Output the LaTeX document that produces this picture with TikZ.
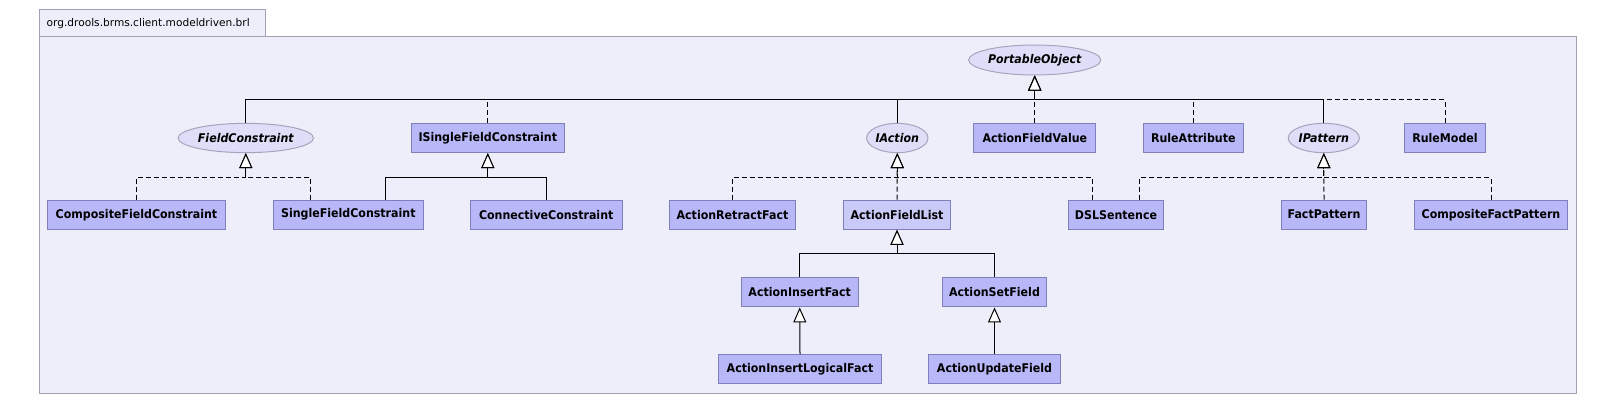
\documentclass[tikz,border=0pt]{standalone}
\usepackage{fontspec}
\usetikzlibrary{shapes.geometric,arrows.meta,calc}
\newfontfamily\boxfont{DejaVu Sans}[FakeStretch=0.92]
\newfontfamily\tabfont{DejaVu Sans}
\definecolor{pkgfill}{RGB}{238,238,250}
\definecolor{pkgborder}{RGB}{160,160,178}
\definecolor{boxfill}{RGB}{184,184,248}
\definecolor{boxlight}{RGB}{202,202,248}
\definecolor{boxborder}{RGB}{128,128,184}
\definecolor{ellfill}{RGB}{222,222,248}
\definecolor{ellborder}{RGB}{164,164,188}
\tikzset{
  cls/.style={draw=boxborder, fill=boxfill, line width=1pt, minimum height=29.3pt, inner sep=0pt,
    font={\boxfont\fontsize{12pt}{14pt}\selectfont\bfseries}},
  itf/.style={ellipse, draw=ellborder, fill=ellfill, line width=1pt, minimum height=29.3pt, inner sep=0pt,
    font={\boxfont\fontsize{12pt}{14pt}\selectfont\bfseries\itshape}},
  gen/.style={line width=1pt, black, -{Triangle[fill=white, length=15pt, width=13pt]}},
  ext/.style={line width=1pt, black},
  impl/.style={line width=1pt, black, dash pattern=on 5pt off 3pt},
}
\begin{document}
\begin{tikzpicture}[x=1pt,y=-1pt]
\useasboundingbox (0,0) rectangle (1616,404);
% package frame
\draw[fill=pkgfill, draw=pkgborder, line width=1pt] (39.3,10) rectangle (265,36.7);
\draw[fill=pkgfill, draw=pkgborder, line width=1pt] (39.3,36.7) rectangle (1576.7,393.3);
\node[anchor=west, inner sep=0pt, font={\tabfont\fontsize{10.6pt}{12pt}\selectfont}] (pkg) at (46.5,23.5) {org.drools.brms.client.modeldriven.brl};

% top
\node[itf, minimum width=119.3pt, minimum height=30pt] (PO) at (1034.7,60) {PortableObject};
% level 2
\node[itf, minimum width=121.7pt] (FC) at (245.8,138) {FieldConstraint};
\node[cls, minimum width=153pt] (ISFC) at (487.8,138) {ISingleFieldConstraint};
\node[itf, minimum width=60pt] (IA) at (897.3,138) {IAction};
\node[cls, minimum width=121.7pt] (AFV) at (1034.8,138) {ActionFieldValue};
\node[cls, minimum width=100pt] (RA) at (1193.3,138) {RuleAttribute};
\node[itf, minimum width=65.7pt] (IP) at (1323.8,138) {IPattern};
\node[cls, minimum width=81.4pt] (RM) at (1445,138) {RuleModel};
% level 3
\node[cls, minimum width=178.4pt] (CFC) at (136.5,214.7) {CompositeFieldConstraint};
\node[cls, minimum width=150pt] (SFC) at (348.3,214.7) {SingleFieldConstraint};
\node[cls, minimum width=152.3pt] (CC) at (546.2,214.7) {ConnectiveConstraint};
\node[cls, minimum width=126.4pt] (ARF) at (732.5,214.7) {ActionRetractFact};
\node[cls, fill=boxlight, minimum width=107.4pt] (AFL) at (897,214.7) {ActionFieldList};
\node[cls, minimum width=95.4pt] (DSL) at (1116,214.7) {DSLSentence};
\node[cls, minimum width=85.4pt] (FP) at (1324,214.7) {FactPattern};
\node[cls, minimum width=153.4pt] (CFP) at (1491,214.7) {CompositeFactPattern};
% level 4
\node[cls, minimum width=117.3pt] (AIF) at (799.7,292.3) {ActionInsertFact};
\node[cls, minimum width=104.4pt] (ASF) at (994.5,292.3) {ActionSetField};
% level 5
\node[cls, minimum width=163.4pt] (AILF) at (800,369.3) {ActionInsertLogicalFact};
\node[cls, minimum width=132.4pt] (AUF) at (994.5,369.3) {ActionUpdateField};

% junctions
\coordinate (POj) at ($(PO.south)+(0,24.3)$);
\coordinate (FCj) at ($(FC.south)+(0,24)$);
\coordinate (ISFCj) at ($(ISFC.south)+(0,24)$);
\coordinate (IAj) at ($(IA.south)+(0,24)$);
\coordinate (IPj) at ($(IP.south)+(0,24)$);
\coordinate (AFLj) at ($(AFL.south)+(0,24)$);
\coordinate (AIFj) at ($(AIF.south)+(0,24)$);
\coordinate (ASFj) at ($(ASF.south)+(0,24)$);

% PortableObject: realizations (dashed) then extensions (solid)
\draw[impl,gen] (ISFC.north) |- (POj) -- (PO.south);
\draw[impl,gen] (AFV.north) |- (POj) -- (PO.south);
\draw[impl,gen] (RA.north) |- (POj) -- (PO.south);
\draw[impl,gen] (RM.north) |- (POj) -- (PO.south);
\draw[ext] (FC.north) |- (POj);
\draw[ext] (IA.north) |- (POj);
\draw[ext] (IP.north) |- (POj);

% FieldConstraint
\draw[impl,gen] (CFC.north) |- (FCj) -- (FC.south);
\draw[impl,gen] ([xshift=-37.5pt]SFC.north) |- (FCj) -- (FC.south);
% ISingleFieldConstraint
\draw[ext,gen] ([xshift=37.5pt]SFC.north) |- (ISFCj) -- (ISFC.south);
\draw[ext,gen] (CC.north) |- (ISFCj) -- (ISFC.south);
% IAction
\draw[impl,gen] (ARF.north) |- (IAj) -- (IA.south);
\draw[impl,gen] (AFL.north) -- (IA.south);
\draw[impl,gen] ([xshift=-23.7pt]DSL.north) |- (IAj) -- (IA.south);
% IPattern
\draw[impl,gen] ([xshift=23.3pt]DSL.north) |- (IPj) -- (IP.south);
\draw[impl,gen] (FP.north) -- (IP.south);
\draw[impl,gen] (CFP.north) |- (IPj) -- (IP.south);
% ActionFieldList
\draw[ext,gen] (AIF.north) |- (AFLj) -- (AFL.south);
\draw[ext,gen] (ASF.north) |- (AFLj) -- (AFL.south);
% level 5
\draw[ext,gen] (AILF.north) -- (AIF.south);
\draw[ext,gen] (AUF.north) -- (ASF.south);
\end{tikzpicture}
\end{document}
